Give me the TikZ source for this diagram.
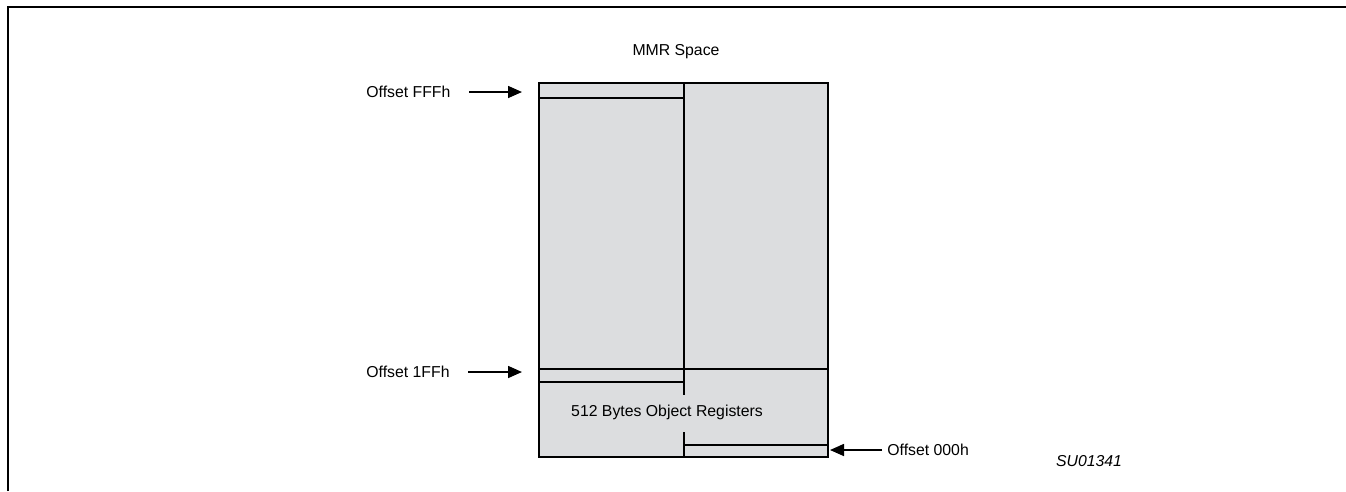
\documentclass[tikz,border=0pt]{standalone}
\usepackage{fontspec}
\setmainfont{Liberation Sans}
\usetikzlibrary{arrows.meta}
\definecolor{memgray}{RGB}{220,221,223}
\newcommand{\mmrlines}{
    \foreach \ya/\xa/\xb in {98/539/684, 369/539/828, 382/539/684, 445/684/828}
        \draw[partline] (\xa,\ya) -- (\xb,\ya);
    \draw[partline] (684,83) -- (684,395);
    \draw[partline] (684,432) -- (684,457);
}
\tikzset{x=0.02cm, y=-0.02cm, every node/.append style={font=\fontsize{9}{10.8}\selectfont, inner sep=0pt},
    boxline/.style={line width=1.1pt},
    partline/.style={line width=0.9pt},
    ptr/.style={line width=0.9pt, -{Triangle[length=2.8mm,width=2.4mm]}}}

\begin{document}
\begin{tikzpicture}
                \useasboundingbox (0,0) rectangle (1346,491);
                \draw[line width=1.1pt] (8,491) -- (8,7) -- (1346,7);
                \fill[memgray] (539,83) rectangle (828,457);
                \mmrlines
                \draw[boxline] (539,83) rectangle (828,457);
                \node (title) at (676,52) {MMR Space};
                \node (regs) at (667,412) {512 Bytes Object Registers};
                \node[anchor=west] (fff) at (366,92) {Offset FFFh};
                \node[anchor=west] (one) at (366,372) {Offset 1FFh};
                \node[anchor=west] (zero) at (887,450) {Offset 000h};
                \node (tag) at (1089,461) {\itshape SU01341};
                \coordinate (fffend) at (522,92);
                \coordinate (oneend) at (522,372);
                \coordinate (zeroend) at (830,450);
                \draw[ptr, shorten <=3.7mm] (fff.east) -- (fffend);
                \draw[ptr, shorten <=3.7mm] (one.east) -- (oneend);
                \draw[ptr, shorten <=1mm] (zero.west) -- (zeroend);
            \end{tikzpicture}
\end{document}
